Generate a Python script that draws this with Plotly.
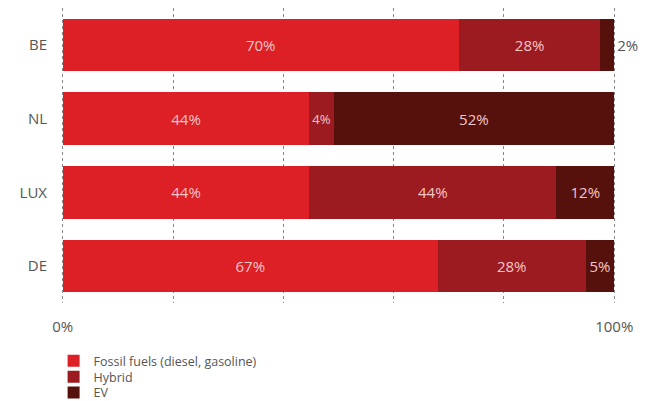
import plotly.graph_objects as go

countries = ["BE", "NL", "LUX", "DE"]
fossil = [71.8, 44.7, 44.7, 68.0]
hybrid = [25.7, 4.4, 44.8, 26.8]
ev = [2.5, 50.9, 10.5, 5.2]
fossil_labels = ["70%", "44%", "44%", "67%"]
hybrid_labels = ["28%", "4%", "44%", "28%"]
ev_labels = ["2%", "52%", "12%", "5%"]
x_ticks = [0, 20, 40, 60, 80, 100]
x_tick_text = ["0%", "", "", "", "", "100%"]

# The page body has an 8px default margin, so the figure is sized to the visible area.
series = [
    ("Fossil fuels (diesel, gasoline)", fossil, fossil_labels, "#DD1F26", "legend", -0.197),
    ("Hybrid", hybrid, hybrid_labels, "#9C1B21", "legend2", -0.251),
    ("EV", ev, ev_labels, "#56110C", "legend3", -0.305),
]

fig = go.Figure()
legend_layout = {}
for name, vals, labels, color, leg, ly in series:
    positions = ["inside"] * len(vals)
    if name == "EV":
        positions = ["outside", "inside", "inside", "inside"]
    fig.add_trace(go.Bar(
        name=name, y=countries, x=vals, orientation="h",
        marker=dict(color=color, line=dict(width=0)),
        text=labels, textposition=positions,
        insidetextanchor="middle",
        insidetextfont=dict(color="#F3C6C8", size=15, family="Open Sans"),
        outsidetextfont=dict(color="#555555", size=15, family="Open Sans"),
        textangle=0, cliponaxis=False, hoverinfo="skip",
        legend=leg,
    ))
    legend_layout[leg] = dict(
        x=-0.0115, xanchor="left", y=ly, yanchor="middle",
        font=dict(size=12.5, color="#555555", family="Open Sans"),
        bgcolor="rgba(0,0,0,0)",
    )

fig.update_layout(
    width=649, height=393,
    barmode="stack", bargap=0.29,
    margin=dict(l=52, r=40, t=0, b=98, autoexpand=False),
    paper_bgcolor="white", plot_bgcolor="white",
    font=dict(family="Open Sans", color="#555555", size=15),
    xaxis=dict(
        range=[-0.5, 100.5], tickvals=x_ticks, ticktext=x_tick_text,
        showgrid=True, gridcolor="#888888", griddash="dot", gridwidth=1,
        zeroline=False, showline=False, ticks="", ticklabelstandoff=13,
        tickfont=dict(size=15, color="#555555"), fixedrange=True,
    ),
    yaxis=dict(
        autorange="reversed", showgrid=False, zeroline=False, showline=False,
        ticks="", ticklabelstandoff=12,
        tickfont=dict(size=15, color="#555555"),
    ),
    showlegend=True,
    **legend_layout,
)

fig.write_html("out.html")
